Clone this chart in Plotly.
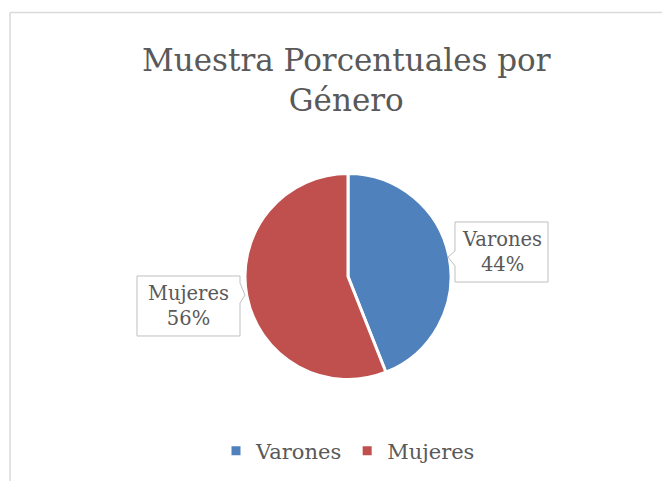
import plotly.graph_objects as go

title_text = "Muestra Porcentuales por<br>Género"
categories = ["Varones", "Mujeres"]
values = [44, 56]
colors = ["#4F81BD", "#C0504D"]

W, H = 670, 481
OFF = 8  # page body margin
FONT = "DejaVu Serif"
TXT = "#595959"

def px(x):
    return (x - OFF) / W

def py(y):
    return 1 - (y - OFF) / H

def path(points):
    return "M " + " L ".join(f"{px(x):.5f},{py(y):.5f}" for x, y in points) + " Z"

fig = go.Figure()
fig.add_trace(go.Pie(
    labels=categories,
    values=values,
    marker=dict(colors=colors, line=dict(color="white", width=3)),
    sort=False,
    direction="clockwise",
    rotation=0,
    textinfo="none",
    hoverinfo="label+percent",
    domain=dict(x=[px(245), px(451)], y=[py(380), py(173)]),
))

# callout boxes (label frames with pointer)
callouts = {
    "Varones": [(455, 222), (548, 222), (548, 282), (455, 282), (455, 266), (448, 257), (455, 251)],
    "Mujeres": [(137, 276), (240, 276), (240, 283), (245, 295), (240, 303), (240, 336), (137, 336)],
}
for cat in categories:
    fig.add_shape(type="path", xref="paper", yref="paper",
                  path=path(callouts[cat]), fillcolor="white",
                  line=dict(color="#BFBFBF", width=1), layer="above")

total = sum(values)
label_pos = {"Varones": (501.5, 252), "Mujeres": (188.5, 306)}
for cat, v in zip(categories, values):
    cx, cy = label_pos[cat]
    fig.add_annotation(
        x=px(cx), y=py(cy), xref="paper", yref="paper",
        xanchor="center", yanchor="middle",
        text=f"{cat}<br>{round(100 * v / total)}%",
        showarrow=False,
        font=dict(family=FONT, size=19.5, color=TXT),
        align="center",
    )

fig.add_annotation(
    x=px(347), y=py(80), xref="paper", yref="paper",
    xanchor="center", yanchor="middle",
    text=title_text, showarrow=False,
    font=dict(family=FONT, size=31, color=TXT),
    align="center",
)

# chart area border
fig.add_shape(type="line", xref="paper", yref="paper",
              x0=px(10), x1=px(690), y0=py(12.5), y1=py(12.5),
              line=dict(color="#D9D9D9", width=1.5))
fig.add_shape(type="line", xref="paper", yref="paper",
              x0=px(10), x1=px(10), y0=py(12.5), y1=py(495),
              line=dict(color="#D9D9D9", width=1.5))

fig.update_layout(
    width=W, height=H,
    margin=dict(l=0, r=0, t=0, b=0),
    paper_bgcolor="white", plot_bgcolor="white",
    showlegend=True,
    legend=dict(orientation="h", x=px(348), xanchor="center",
                y=py(451), yanchor="middle",
                font=dict(family=FONT, size=21, color=TXT),
                itemwidth=30),
)

fig.write_html("out.html")
